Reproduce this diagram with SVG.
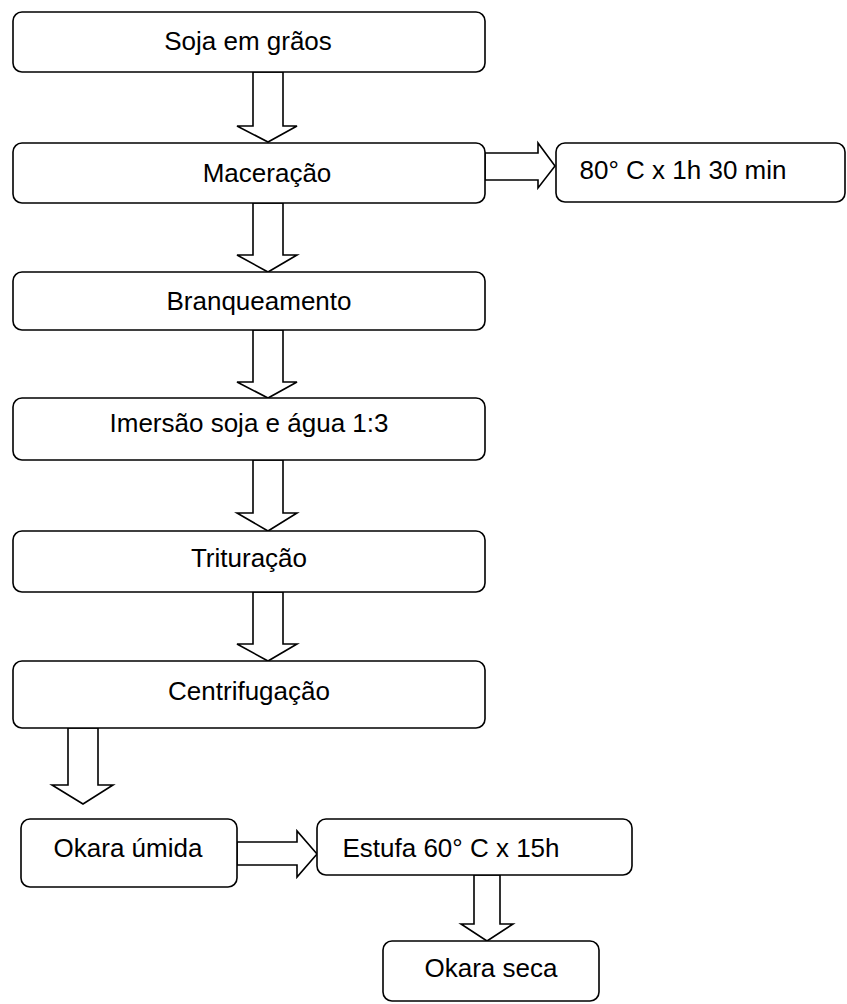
<svg xmlns="http://www.w3.org/2000/svg" width="847" height="1004" viewBox="0 0 847 1004">
<style>
.box{fill:#fff;stroke:#000;stroke-width:1.6}
.arr{fill:#fff;stroke:#000;stroke-width:1.6;stroke-linejoin:miter}
text{font-family:"Liberation Sans",Arial,sans-serif;font-size:26px;fill:#000;text-anchor:middle}
</style>
<rect width="847" height="1004" fill="#fff"/>
<g id="connectors">
<polygon class="arr" points="253,72 283,72 283,126 297,126 268,142 237,126 253,126"/>
<polygon class="arr" points="253,203 283,203 283,255 297,255 268,272 237,255 253,255"/>
<polygon class="arr" points="253,330 283,330 283,382 297,382 268,398 237,382 253,382"/>
<polygon class="arr" points="253,460 283,460 283,513 297,513 268,531 237,513 253,513"/>
<polygon class="arr" points="253,592 283,592 283,644 297,644 268,661 237,644 253,644"/>
<polygon class="arr" points="68,728 98,728 98,785 113,785 83,804 52,785 68,785"/>
<polygon class="arr" points="485,153 538,153 538,143 555,166 538,188 538,180 485,180"/>
<polygon class="arr" points="237,842 297,842 297,831 317,854 297,877 297,865 237,865"/>
<polygon class="arr" points="474,875 500,875 500,924 513,924 487,941 461,924 474,924"/>
</g>
<g id="n1"><rect class="box" x="13" y="12" width="472" height="60" rx="9"/><text x="248" y="50">Soja em grãos</text></g>
<g id="n2"><rect class="box" x="13" y="143" width="472" height="60" rx="9"/><text x="267" y="182">Maceração</text></g>
<g id="n2b"><rect class="box" x="556" y="143" width="289" height="59" rx="9"/><text x="683" y="179">80° C x 1h 30 min</text></g>
<g id="n3"><rect class="box" x="13" y="272" width="472" height="58" rx="9"/><text x="259" y="310">Branqueamento</text></g>
<g id="n4"><rect class="box" x="13" y="398" width="472" height="62" rx="9"/><text x="249" y="432">Imersão soja e água 1:3</text></g>
<g id="n5"><rect class="box" x="13" y="531" width="472" height="61" rx="9"/><text x="249" y="567">Trituração</text></g>
<g id="n6"><rect class="box" x="13" y="661" width="472" height="67" rx="9"/><text x="249" y="700">Centrifugação</text></g>
<g id="n7"><rect class="box" x="21" y="819" width="216" height="68" rx="9"/><text x="128" y="857">Okara úmida</text></g>
<g id="n8"><rect class="box" x="317" y="819" width="315" height="56" rx="9"/><text x="451" y="857">Estufa 60° C x 15h</text></g>
<g id="n9"><rect class="box" x="383" y="941" width="216" height="60" rx="9"/><text x="491" y="977">Okara seca</text></g>
</svg>
